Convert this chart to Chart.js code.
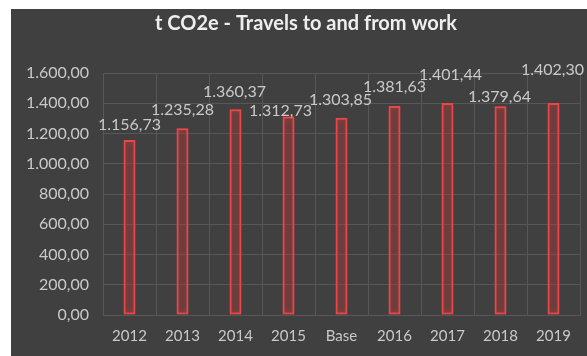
<!DOCTYPE html>
<html>
<head>
<meta charset="utf-8">
<script src="https://cdn.jsdelivr.net/npm/chart.js@4/dist/chart.umd.min.js"></script>
<style>
  html, body { margin: 0; padding: 0; background: #fff; }
  #panel { position: absolute; left: 11px; top: 9px; width: 576px; height: 347px; background: #404040; }
  #chart { display: block; }
</style>
</head>
<body>
<div id="panel"><canvas id="chart" width="576" height="347"></canvas></div>
<script>
const categories = ['2012', '2013', '2014', '2015', 'Base', '2016', '2017', '2018', '2019'];
const emissions = [1156.73, 1235.28, 1360.37, 1312.73, 1303.85, 1381.63, 1401.44, 1379.64, 1402.30];
const yTicks = [0, 200, 400, 600, 800, 1000, 1200, 1400, 1600];
const chartTitle = 't CO2e - Travels to and from work';

// label nudges so the value texts sit where they were placed by hand
const labelDx = [0, 0, -1, -8, -1, 0, 3, -1, -1];
const labelDy = [-15, -18, -17, -6, -18, -19, -28, -9, -33];

const fmt = v => v.toLocaleString('de-DE', { minimumFractionDigits: 2, maximumFractionDigits: 2 });
const FONT = 'Lato, "Open Sans", sans-serif';

// title is centred on the full (wider) chart frame, not on the canvas
const headline = {
  id: 'headline',
  afterDraw(chart) {
    const ctx = chart.ctx;
    ctx.save();
    ctx.font = 'bold 20px ' + FONT;
    ctx.fillStyle = '#eeeeee';
    ctx.textAlign = 'center';
    ctx.textBaseline = 'middle';
    ctx.fillText(chartTitle, 295, 15);
    ctx.restore();
  }
};

const barGlow = {
  id: 'barGlow',
  beforeDatasetsDraw(chart) {
    const ctx = chart.ctx;
    ctx.save();
    ctx.shadowColor = 'rgba(255, 70, 70, 0.7)';
    ctx.shadowBlur = 5;
  },
  afterDatasetsDraw(chart) {
    chart.ctx.restore();
  }
};

const valueLabels = {
  id: 'valueLabels',
  afterDatasetsDraw(chart) {
    const ctx = chart.ctx;
    const meta = chart.getDatasetMeta(0);
    ctx.save();
    ctx.font = '16px ' + FONT;
    ctx.fillStyle = '#c9c9c9';
    ctx.textAlign = 'center';
    ctx.textBaseline = 'middle';
    meta.data.forEach((bar, i) => {
      ctx.fillText(fmt(emissions[i]), bar.x + labelDx[i], bar.y + labelDy[i]);
    });
    ctx.restore();
  }
};

new Chart(document.getElementById('chart'), {
  type: 'bar',
  data: {
    labels: categories,
    datasets: [{
      data: emissions,
      backgroundColor: 'rgba(140, 50, 50, 0.2)',
      borderColor: '#e8474a',
      borderWidth: 2,
      borderSkipped: false,
      barPercentage: 0.45,
      categoryPercentage: 0.5
    }]
  },
  options: {
    responsive: false,
    animation: false,
    layout: { padding: { left: 0, right: 7, top: 64, bottom: 0 } },
    plugins: {
      legend: { display: false },
      tooltip: { enabled: false },
      title: { display: false }
    },
    scales: {
      x: {
        grid: { color: '#575757', lineWidth: 1, drawTicks: false },
        border: { color: '#575757' },
        ticks: { color: '#c9c9c9', font: { family: FONT, size: 15 }, padding: 12 },
        afterFit(scale) { scale.height = 41; }
      },
      y: {
        min: 0,
        max: 1600,
        afterBuildTicks(scale) { scale.ticks = yTicks.map(v => ({ value: v })); },
        grid: { color: '#575757', lineWidth: 1, drawTicks: false },
        border: { display: false },
        ticks: { color: '#c9c9c9', font: { family: FONT, size: 16 }, padding: 14, callback: v => fmt(v) },
        afterFit(scale) { scale.width = 92; }
      }
    }
  },
  plugins: [barGlow, valueLabels, headline]
});
</script>
</body>
</html>
